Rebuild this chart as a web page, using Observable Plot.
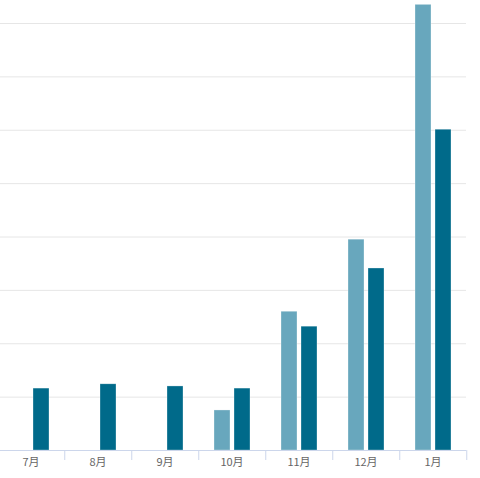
<!DOCTYPE html>
<html>
<head>
<meta charset="utf-8">
<script src="https://cdn.jsdelivr.net/npm/d3@7"></script>
<script src="https://cdn.jsdelivr.net/npm/@observablehq/plot@0.6"></script>
<style>
  html, body { margin: 0; padding: 0; background: #fff; }
  #chart svg { display: block; }
</style>
</head>
<body>
<div id="chart"></div>
<script>
const months = ["7月", "8月", "9月", "10月", "11月", "12月", "1月"];
const seriesNames = ["A", "B"];
const seriesA = [null, null, null, 75, 260, 395, 835];
const seriesB = [116, 124, 120, 116, 232, 341, 601];
const gridTicks = [0, 100, 200, 300, 400, 500, 600, 700, 800];
const colors = ["#68a7bd", "#006a8a"];

const rows = [];
months.forEach((m, i) => {
  if (seriesA[i] != null) rows.push({month: m, series: "A", value: seriesA[i]});
  if (seriesB[i] != null) rows.push({month: m, series: "B", value: seriesB[i]});
});

const chart = Plot.plot({
  width: 480,
  height: 478,
  marginLeft: 0,
  marginRight: 12,
  marginTop: 23,
  marginBottom: 28,
  style: {fontFamily: "'Noto Sans CJK SC', 'Noto Sans', sans-serif", background: "#fff"},
  fx: {domain: months, padding: 0, range: [-4.5, 468], label: null},
  x: {domain: seriesNames, range: [15, 53], paddingInner: 0.19, paddingOuter: 0, axis: null},
  y: {domain: [0, 800], axis: null},
  color: {domain: seriesNames, range: colors},
  marks: [
    Plot.ruleY(gridTicks.slice(1), {stroke: "#e6e6e6", strokeWidth: 1}),
    Plot.barY(rows, {fx: "month", x: "series", y: "value", fill: "series", stroke: "#ffffff", strokeWidth: 0.6, strokeOpacity: 0.5}),
    Plot.ruleY([0], {stroke: "#ccd6eb", strokeWidth: 1}),
    Plot.axisFx({anchor: "bottom", tickSize: 10, dx: 33.75, stroke: "#ccd6eb", tickFormat: () => "", label: null}),
    Plot.axisFx({anchor: "bottom", tickSize: 0, tickPadding: 8, fontSize: 11, fill: "#666666", label: null})
  ]
});
document.getElementById("chart").appendChild(chart);
</script>
</body>
</html>
